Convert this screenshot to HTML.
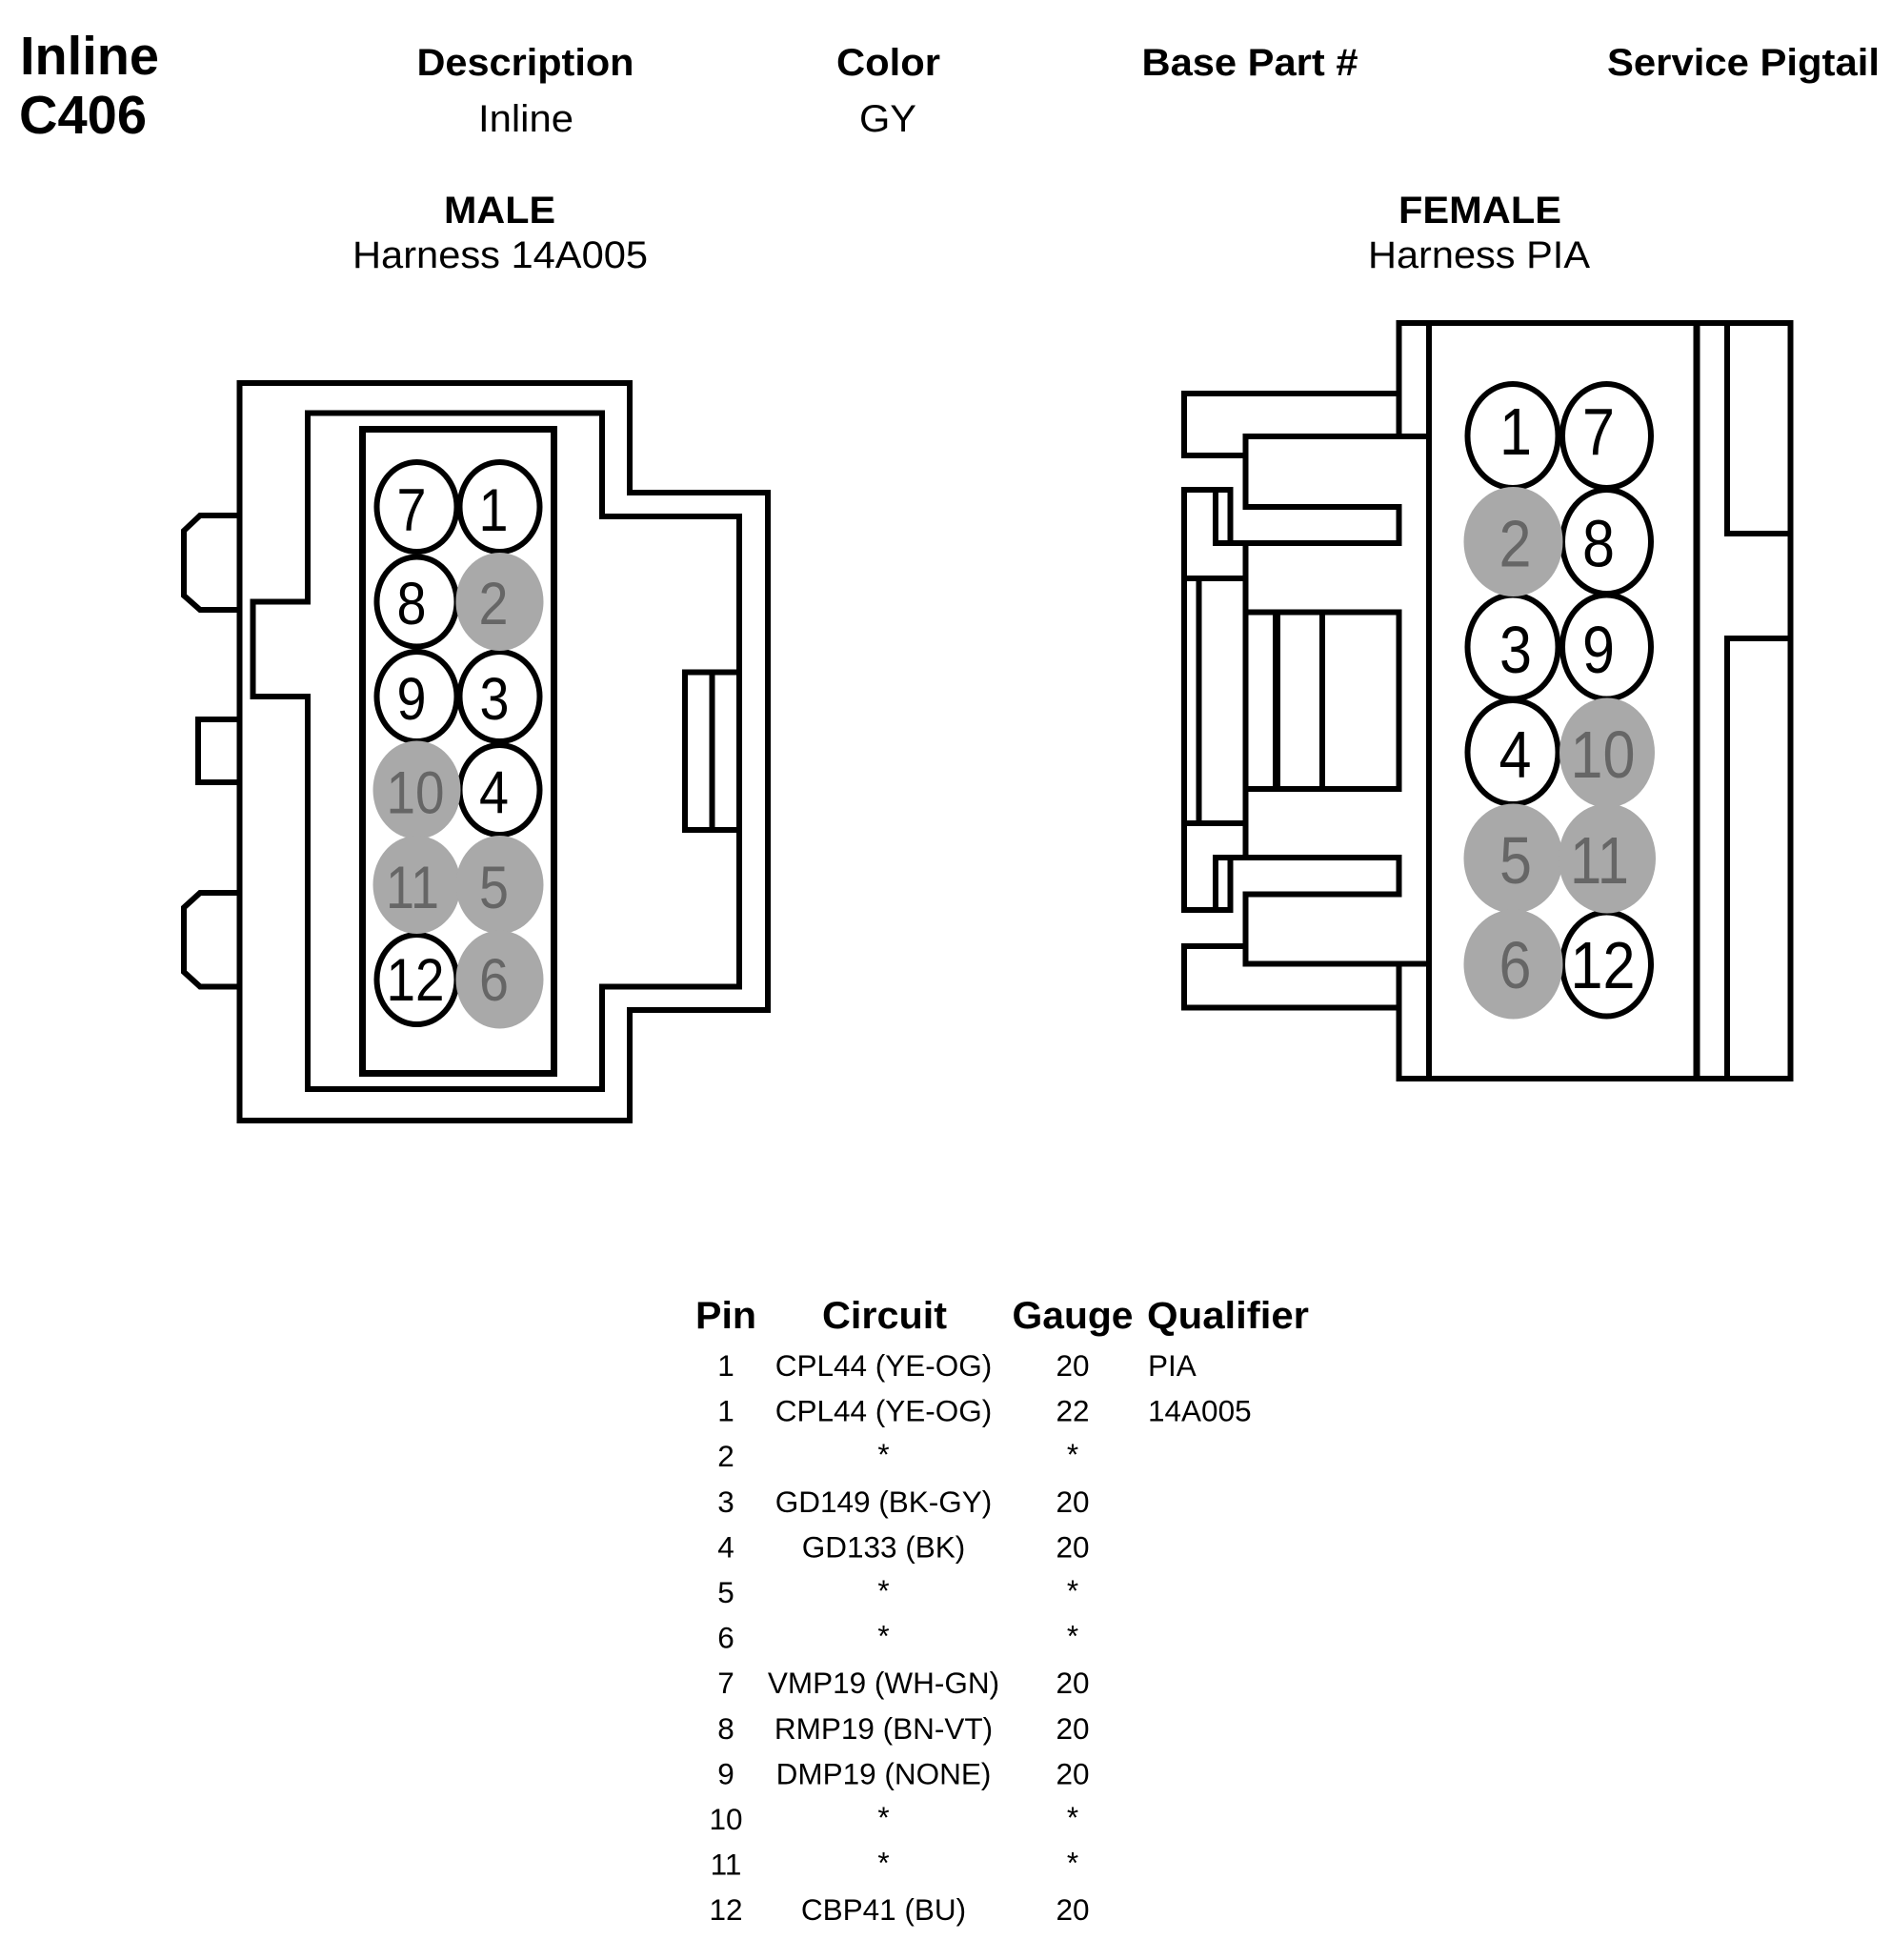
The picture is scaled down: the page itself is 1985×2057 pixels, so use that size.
<!DOCTYPE html>
<html>
<head>
<meta charset="utf-8">
<style>
html,body{margin:0;padding:0;background:#fff;width:1985px;height:2057px;overflow:hidden}
svg{display:block}
text{font-family:"Liberation Sans",Arial,sans-serif;fill:#000}
.b{font-weight:bold}
.h{font-size:40px}
.t{font-size:31.5px}
.m{text-anchor:middle}
.d{fill:none;stroke:#000;stroke-width:6;stroke-linejoin:miter}
.w{fill:#fff;stroke:#000;stroke-width:6}
.g{fill:#a9a9a9;stroke:none}
.n{fill:#666}
.th{font-size:39.5px;font-weight:bold}
</style>
</head>
<body>
<svg width="1985" height="2057" viewBox="0 0 1985 2057" xmlns="http://www.w3.org/2000/svg">
<rect width="1985" height="2057" fill="#fff"/>

<!-- Header -->
<text x="21" y="78" class="b" font-size="57" textLength="146" lengthAdjust="spacingAndGlyphs">Inline</text>
<text x="20" y="140" class="b" font-size="57" textLength="134" lengthAdjust="spacingAndGlyphs">C406</text>
<text x="437.5" y="79" class="b h" textLength="228" lengthAdjust="spacingAndGlyphs">Description</text>
<text x="878" y="79" class="b h" textLength="109" lengthAdjust="spacingAndGlyphs">Color</text>
<text x="1198.5" y="79" class="b h" textLength="227" lengthAdjust="spacingAndGlyphs">Base Part #</text>
<text x="1687" y="79" class="b h" textLength="286" lengthAdjust="spacingAndGlyphs">Service Pigtail</text>
<text x="502" y="138" class="h" textLength="100" lengthAdjust="spacingAndGlyphs">Inline</text>
<text x="902" y="138" class="h" textLength="60" lengthAdjust="spacingAndGlyphs">GY</text>
<text x="466" y="234" class="b h" textLength="117" lengthAdjust="spacingAndGlyphs">MALE</text>
<text x="370" y="281" class="h" textLength="310" lengthAdjust="spacingAndGlyphs">Harness 14A005</text>
<text x="1468" y="234" class="b h" textLength="171" lengthAdjust="spacingAndGlyphs">FEMALE</text>
<text x="1436" y="281" class="h" textLength="233" lengthAdjust="spacingAndGlyphs">Harness PIA</text>

<!-- MALE connector -->
<path class="d" d="M251.5 402H661V517H806V1060H661V1176H251.5Z"/>
<path class="d" d="M323 433.5H632V542H776V1035.5H632V1143H323V731H265.5V631.5H323Z"/>
<rect x="380.5" y="450.5" width="201" height="676" fill="none" stroke="#000" stroke-width="7"/>
<path class="d" d="M251 541H210L193 557V625L210 640H251"/>
<path class="d" d="M251 755H208V821H251"/>
<path class="d" d="M251 937H210L193 952.5V1020L210 1035.5H251"/>
<path class="d" d="M776 705.5H719V871H776M747.5 705.5V871"/>

<ellipse class="w" cx="437.5" cy="532" rx="42" ry="47"/>
<ellipse class="w" cx="524.5" cy="532" rx="42" ry="47"/>
<ellipse class="w" cx="437.5" cy="631.5" rx="42" ry="47"/>
<ellipse class="w" cx="437.5" cy="731" rx="42" ry="47"/>
<ellipse class="w" cx="524.5" cy="731" rx="42" ry="47"/>
<ellipse class="w" cx="524.5" cy="829" rx="42" ry="47"/>
<ellipse class="w" cx="437.5" cy="1028" rx="42" ry="47"/>
<ellipse class="g" cx="524.5" cy="631.5" rx="46" ry="51.5"/>
<ellipse class="g" cx="437.5" cy="829" rx="46" ry="51.5"/>
<ellipse class="g" cx="437.5" cy="928.5" rx="46" ry="51.5"/>
<ellipse class="g" cx="524.5" cy="928.5" rx="46" ry="51.5"/>
<ellipse class="g" cx="524.5" cy="1028" rx="46" ry="51.5"/>

<g font-size="63">
<text class="m" x="432" y="557" textLength="31" lengthAdjust="spacingAndGlyphs">7</text>
<text class="m" x="518" y="557" textLength="31" lengthAdjust="spacingAndGlyphs">1</text>
<text class="m" x="432" y="655" textLength="31" lengthAdjust="spacingAndGlyphs">8</text>
<text class="m n" x="518" y="655" textLength="31" lengthAdjust="spacingAndGlyphs">2</text>
<text class="m" x="432" y="755" textLength="31" lengthAdjust="spacingAndGlyphs">9</text>
<text class="m" x="519" y="755" textLength="31" lengthAdjust="spacingAndGlyphs">3</text>
<text class="m n" x="436" y="853.5" textLength="61" lengthAdjust="spacingAndGlyphs">10</text>
<text class="m" x="518.5" y="853.5" textLength="31" lengthAdjust="spacingAndGlyphs">4</text>
<text class="m n" x="433" y="953" textLength="56" lengthAdjust="spacingAndGlyphs">11</text>
<text class="m n" x="518.5" y="953" textLength="31" lengthAdjust="spacingAndGlyphs">5</text>
<text class="m" x="436" y="1050" textLength="61" lengthAdjust="spacingAndGlyphs">12</text>
<text class="m n" x="518.5" y="1050" textLength="31" lengthAdjust="spacingAndGlyphs">6</text>
</g>

<!-- FEMALE connector -->
<path class="d" d="M1468.5 458V339H1879.5V1132H1468.5V1011.5"/>
<path class="d" d="M1500 339V1132"/>
<path d="M1781 339V1132" fill="none" stroke="#000" stroke-width="7"/>
<path class="d" d="M1813 339V560H1879M1813 1132V670H1879"/>
<path class="d" d="M1468.5 413H1243V478H1307.5"/>
<path class="d" d="M1500 458H1307.5V532H1468.5V570H1276V517M1291.5 570V514H1243V955H1291.5V900M1276 955V900H1468.5V938.5H1307.5V1011.5H1500"/>
<path class="d" d="M1307.5 570V900"/>
<path class="d" d="M1243 607H1307.5M1243 864H1307.5M1258.5 607V864"/>
<path class="d" d="M1307.5 642.5H1468.5V828H1307.5"/>
<path d="M1340 642.5V828" fill="none" stroke="#000" stroke-width="8"/>
<path class="d" d="M1388 642.5V828"/>
<path class="d" d="M1307.5 993H1243V1057.5H1468.5"/>

<ellipse class="w" cx="1588" cy="457.5" rx="47.5" ry="54.5"/>
<ellipse class="w" cx="1686.5" cy="457.5" rx="46.5" ry="54.5"/>
<ellipse class="w" cx="1686.5" cy="568.5" rx="46.5" ry="54.5"/>
<ellipse class="w" cx="1588" cy="679" rx="47.5" ry="54.5"/>
<ellipse class="w" cx="1686.5" cy="679" rx="46.5" ry="54.5"/>
<ellipse class="w" cx="1588" cy="789.5" rx="47.5" ry="54.5"/>
<ellipse class="w" cx="1686.5" cy="1012" rx="46.5" ry="54.5"/>
<ellipse class="g" cx="1588.5" cy="568.5" rx="52" ry="57.5"/>
<ellipse class="g" cx="1687" cy="790" rx="50" ry="57.5"/>
<ellipse class="g" cx="1588.5" cy="901" rx="52" ry="57.5"/>
<ellipse class="g" cx="1687" cy="901" rx="51" ry="57.5"/>
<ellipse class="g" cx="1588.5" cy="1012" rx="52" ry="57.5"/>

<g font-size="70">
<text class="m" x="1591" y="477" textLength="34" lengthAdjust="spacingAndGlyphs">1</text>
<text class="m" x="1678" y="477" textLength="34" lengthAdjust="spacingAndGlyphs">7</text>
<text class="m n" x="1590.5" y="594.5" textLength="34" lengthAdjust="spacingAndGlyphs">2</text>
<text class="m" x="1678" y="594.5" textLength="34" lengthAdjust="spacingAndGlyphs">8</text>
<text class="m" x="1591" y="706" textLength="34" lengthAdjust="spacingAndGlyphs">3</text>
<text class="m" x="1678" y="706" textLength="34" lengthAdjust="spacingAndGlyphs">9</text>
<text class="m" x="1590.5" y="816" textLength="34" lengthAdjust="spacingAndGlyphs">4</text>
<text class="m n" x="1682.5" y="816" textLength="68" lengthAdjust="spacingAndGlyphs">10</text>
<text class="m n" x="1591" y="927" textLength="34" lengthAdjust="spacingAndGlyphs">5</text>
<text class="m n" x="1679" y="927" textLength="62" lengthAdjust="spacingAndGlyphs">11</text>
<text class="m n" x="1590.5" y="1037" textLength="34" lengthAdjust="spacingAndGlyphs">6</text>
<text class="m" x="1682.5" y="1037" textLength="68" lengthAdjust="spacingAndGlyphs">12</text>
</g>

<!-- Table -->
<text class="th m" x="762" y="1394" textLength="64" lengthAdjust="spacingAndGlyphs">Pin</text>
<text class="th m" x="928.5" y="1394" textLength="131" lengthAdjust="spacingAndGlyphs">Circuit</text>
<text class="th m" x="1126" y="1394" textLength="127" lengthAdjust="spacingAndGlyphs">Gauge</text>
<text class="th" x="1204" y="1394" textLength="170" lengthAdjust="spacingAndGlyphs">Qualifier</text>

<g>
<text class="t m" x="762" y="1444">1</text><text class="t m" x="927.5" y="1444">CPL44 (YE-OG)</text><text class="t m" x="1126" y="1444">20</text><text class="t" x="1205" y="1444">PIA</text>
<text class="t m" x="762" y="1491.5">1</text><text class="t m" x="927.5" y="1491.5">CPL44 (YE-OG)</text><text class="t m" x="1126" y="1491.5">22</text><text class="t" x="1205" y="1491.5">14A005</text>
<text class="t m" x="762" y="1539">2</text><text class="t m" x="927.5" y="1537">*</text><text class="t m" x="1126" y="1537">*</text>
<text class="t m" x="762" y="1587">3</text><text class="t m" x="927.5" y="1587">GD149 (BK-GY)</text><text class="t m" x="1126" y="1587">20</text>
<text class="t m" x="762" y="1634.5">4</text><text class="t m" x="927.5" y="1634.5">GD133 (BK)</text><text class="t m" x="1126" y="1634.5">20</text>
<text class="t m" x="762" y="1682">5</text><text class="t m" x="927.5" y="1680">*</text><text class="t m" x="1126" y="1680">*</text>
<text class="t m" x="762" y="1729.5">6</text><text class="t m" x="927.5" y="1727.5">*</text><text class="t m" x="1126" y="1727.5">*</text>
<text class="t m" x="762" y="1777">7</text><text class="t m" x="927.5" y="1777">VMP19 (WH-GN)</text><text class="t m" x="1126" y="1777">20</text>
<text class="t m" x="762" y="1825">8</text><text class="t m" x="927.5" y="1825">RMP19 (BN-VT)</text><text class="t m" x="1126" y="1825">20</text>
<text class="t m" x="762" y="1872.5">9</text><text class="t m" x="927.5" y="1872.5">DMP19 (NONE)</text><text class="t m" x="1126" y="1872.5">20</text>
<text class="t m" x="762" y="1920">10</text><text class="t m" x="927.5" y="1918">*</text><text class="t m" x="1126" y="1918">*</text>
<text class="t m" x="762" y="1967.5">11</text><text class="t m" x="927.5" y="1965.5">*</text><text class="t m" x="1126" y="1965.5">*</text>
<text class="t m" x="762" y="2015">12</text><text class="t m" x="927.5" y="2015">CBP41 (BU)</text><text class="t m" x="1126" y="2015">20</text>
</g>
</svg>
</body>
</html>
